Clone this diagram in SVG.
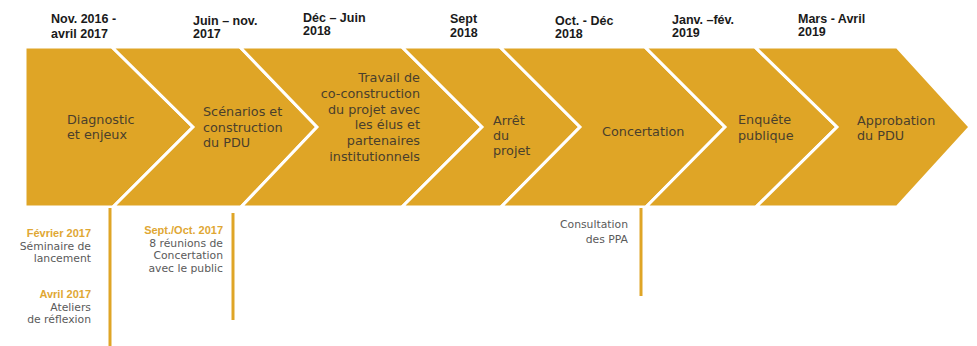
<svg xmlns="http://www.w3.org/2000/svg" width="977" height="346" viewBox="0 0 977 346">
<style>
.chev{fill:#DFA526;stroke:#FFFFFF;stroke-width:3;stroke-linejoin:miter}
.lbl{font-family:"DejaVu Sans",sans-serif;font-size:12.8px;fill:#4a3f2c}
.date{font-family:"Liberation Sans",Arial,sans-serif;font-weight:bold;font-size:12.5px;fill:#1a1a1a}
.note{font-family:"DejaVu Sans",sans-serif;font-size:10.8px;fill:#5a5a5a;text-anchor:end}
.gold{font-family:"Liberation Sans",Arial,sans-serif;font-weight:bold;font-size:11px;fill:#E0A733;text-anchor:end}
.vline{stroke:#DFA526;stroke-width:3;fill:none}
</style>
<rect width="977" height="346" fill="#FFFFFF"/>
<g id="dates">
<text class="date" x="51" y="23">Nov. 2016 -</text><text class="date" x="51" y="38">avril 2017</text>
<text class="date" x="193" y="25">Juin – nov.</text><text class="date" x="193" y="38">2017</text>
<text class="date" x="303" y="22">Déc – Juin</text><text class="date" x="303" y="35">2018</text>
<text class="date" x="450" y="23">Sept</text><text class="date" x="450" y="37">2018</text>
<text class="date" x="555" y="25">Oct. - Déc</text><text class="date" x="555" y="38">2018</text>
<text class="date" x="672" y="24">Janv. –fév.</text><text class="date" x="672" y="37">2019</text>
<text class="date" x="798" y="23">Mars - Avril</text><text class="date" x="798" y="36">2019</text>
</g>
<g id="node1"><polygon class="chev" points="25,47 112,47 193,127 113,207 25,207"/>
<text class="lbl" x="67" y="124">Diagnostic</text><text class="lbl" x="67" y="139">et enjeux</text></g>
<g id="node2"><polygon class="chev" points="112,47 240,47 317,127 241,207 113,207 193,127"/>
<text class="lbl" x="203" y="116">Scénarios et</text><text class="lbl" x="203" y="131.5">construction</text><text class="lbl" x="203" y="147">du PDU</text></g>
<g id="node3"><polygon class="chev" points="240,47 402,47 482,127 402,207 241,207 317,127"/>
<g text-anchor="end"><text class="lbl" x="420" y="82">Travail de</text><text class="lbl" x="420" y="97.8">co-construction</text><text class="lbl" x="420" y="113.6">du projet avec</text><text class="lbl" x="420" y="129.4">les élus et</text><text class="lbl" x="420" y="145.2">partenaires</text><text class="lbl" x="420" y="161">institutionnels</text></g></g>
<g id="node4"><polygon class="chev" points="402,47 500,47 580,127 501,207 402,207 482,127"/>
<text class="lbl" x="493" y="125">Arrêt</text><text class="lbl" x="493" y="140">du</text><text class="lbl" x="493" y="155">projet</text></g>
<g id="node5"><polygon class="chev" points="500,47 645,47 725,127 646,207 501,207 580,127"/>
<text class="lbl" x="602" y="136">Concertation</text></g>
<g id="node6"><polygon class="chev" points="645,47 755,47 837,127 756,207 646,207 725,127"/>
<text class="lbl" x="738" y="124">Enquête</text><text class="lbl" x="738" y="140">publique</text></g>
<g id="node7"><polygon class="chev" points="755,47 897,47 970,127 897,207 756,207 837,127"/>
<text class="lbl" x="857" y="125">Approbation</text><text class="lbl" x="857" y="140">du PDU</text></g>
<g id="connectors">
<line class="vline" x1="110" y1="208" x2="110" y2="346"/>
<line class="vline" x1="233" y1="213" x2="233" y2="320"/>
<line class="vline" x1="641" y1="208" x2="641" y2="296"/>
</g>
<g id="note1"><text class="gold" x="91" y="237">Février 2017</text><text class="note" x="91" y="249.5">Séminaire de</text><text class="note" x="91" y="262">lancement</text></g>
<g id="note2"><text class="gold" x="91" y="298">Avril 2017</text><text class="note" x="91" y="310.5">Ateliers</text><text class="note" x="91" y="323">de réflexion</text></g>
<g id="note3"><text class="gold" x="223" y="234">Sept./Oct. 2017</text><text class="note" x="223" y="246.5">8 réunions de</text><text class="note" x="223" y="259">Concertation</text><text class="note" x="223" y="271.5">avec le public</text></g>
<g id="note4"><text class="note" x="628" y="228">Consultation</text><text class="note" x="628" y="243">des PPA</text></g>
</svg>
